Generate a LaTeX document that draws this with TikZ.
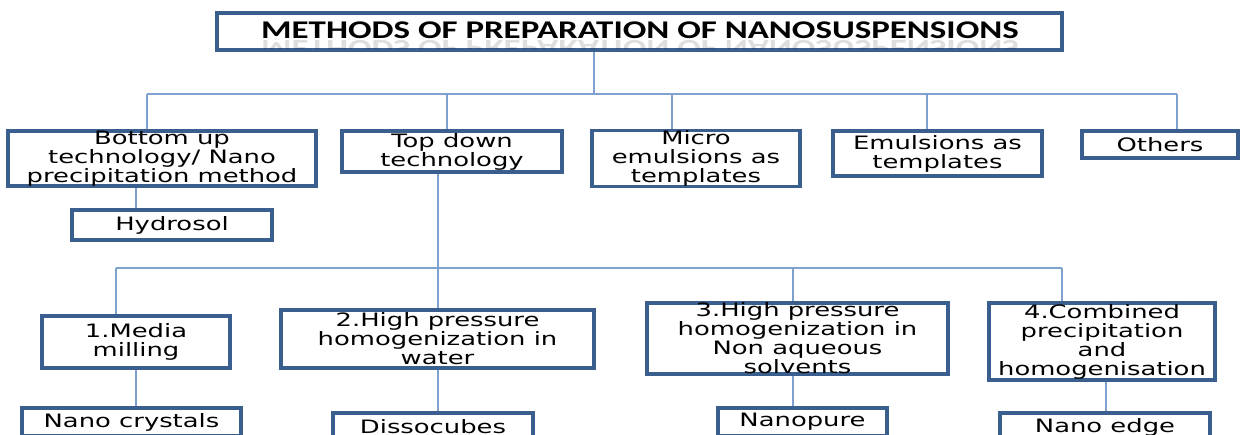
\documentclass[tikz,border=0pt]{standalone}
\usepackage{fontspec}
\setmainfont{DejaVu Sans}[FakeStretch=1.4]
\newfontfamily\titlefont{Carlito}[FakeStretch=1.37]
\usepackage{tikz}
\definecolor{boxblue}{HTML}{3A5F8E}
\definecolor{linkblue}{HTML}{7EA1CF}

\begin{document}
\begin{tikzpicture}[x=0.02cm, y=-0.02cm,
        methodbox/.style={draw=boxblue, line width=2pt, fill=white, align=center,
                inner sep=0pt, font=\fontsize{10.5}{10.8}\selectfont},
        titletext/.style={font=\titlefont\bfseries\fontsize{14.5}{16}\selectfont},
        link/.style={draw=linkblue, line width=0.8pt}]
        \useasboundingbox (0,0) rectangle (1241,434);
        % bus points
        \coordinate (top) at (594,94);
        \coordinate (b1) at (147,94);
        \coordinate (b2) at (447,94);
        \coordinate (b3) at (672,94);
        \coordinate (b4) at (927,94);
        \coordinate (b5) at (1177,94);
        \coordinate (mid) at (438,268);
        \coordinate (m1) at (116,268);
        \coordinate (m2) at (438,268);
        \coordinate (m3) at (793,268);
        \coordinate (m4) at (1062,268);
        % title
        \node[methodbox, minimum width=16.9cm, minimum height=0.74cm] (title) at (639.5,31.5) {};
        \node[titletext] (titlelabel) at (640,30) {METHODS OF PREPARATION OF NANOSUSPENSIONS};
        \begin{scope}
                \clip (219,40.5) rectangle (1060,48);
                \node[titletext, yscale=-1, opacity=0.13] (titleshadow) at (640,49) {METHODS OF PREPARATION OF NANOSUSPENSIONS};
        \end{scope}
        % first level
        \node[methodbox, minimum width=6.16cm, minimum height=1.1cm] (bottomup) at (162,158.5) {Bottom up\\technology/ Nano\\precipitation method};
        \node[methodbox, minimum width=4.4cm, minimum height=0.82cm] (topdown) at (452,151.5) {Top down\\technology};
        \node[methodbox, minimum width=4.16cm, minimum height=1.1cm] (micro) at (696,158.5) {Micro\\emulsions as\\templates};
        \node[methodbox, minimum width=4.18cm, minimum height=0.9cm] (emulsion) at (937.5,153.5) {Emulsions as\\templates};
        \node[methodbox, minimum width=3.12cm, minimum height=0.54cm] (others) at (1160,144.5) {Others};
        \node[methodbox, minimum width=4cm, minimum height=0.6cm] (hydrosol) at (172,225) {Hydrosol};
        % top down methods
        \node[methodbox, minimum width=3.76cm, minimum height=1.04cm] (media) at (136,342) {1.Media\\milling};
        \node[methodbox, minimum width=6.26cm, minimum height=1.16cm] (hpwater) at (437.5,339) {2.High pressure\\homogenization in\\water};
        \node[methodbox, minimum width=6.02cm, minimum height=1.42cm] (hpnonaq) at (797.5,338.5) {3.High pressure\\homogenization in\\Non aqueous\\solvents};
        \node[methodbox, minimum width=4.52cm, minimum height=1.54cm] (combined) at (1102,341.5) {4.Combined\\precipitation\\and\\homogenisation};
        % products
        \node[methodbox, minimum width=4.38cm, minimum height=0.56cm] (crystals) at (131.5,422) {Nano crystals};
        \node[methodbox, minimum width=4cm, minimum height=0.56cm] (dissocubes) at (433,427) {Dissocubes};
        \node[methodbox, minimum width=3.38cm, minimum height=0.56cm] (nanopure) at (802.5,422) {Nanopure};
        \node[methodbox, minimum width=4.2cm, minimum height=0.56cm] (nanoedge) at (1105,427) {Nano edge};
        % connectors
        \draw[link] (title.south -| top) -- (top);
        \draw[link] (b1) -- (b5);
        \draw[link] (b1) -- (b1 |- bottomup.north);
        \draw[link] (b2) -- (b2 |- topdown.north);
        \draw[link] (b3) -- (b3 |- micro.north);
        \draw[link] (b4) -- (b4 |- emulsion.north);
        \draw[link] (b5) -- (b5 |- others.north);
        \draw[link] (bottomup.south -| 136,0) -- (hydrosol.north -| 136,0);
        \draw[link] (topdown.south -| mid) -- (mid);
        \draw[link] (m1) -- (m4);
        \draw[link] (m1) -- (m1 |- media.north);
        \draw[link] (m2) -- (m2 |- hpwater.north);
        \draw[link] (m3) -- (m3 |- hpnonaq.north);
        \draw[link] (m4) -- (m4 |- combined.north);
        \draw[link] (media.south -| 136,0) -- (crystals.north -| 136,0);
        \draw[link] (hpwater.south -| m2) -- (dissocubes.north -| m2);
        \draw[link] (hpnonaq.south -| m3) -- (nanopure.north -| m3);
        \draw[link] (combined.south -| 1106,0) -- (nanoedge.north -| 1106,0);
\end{tikzpicture}
\end{document}
